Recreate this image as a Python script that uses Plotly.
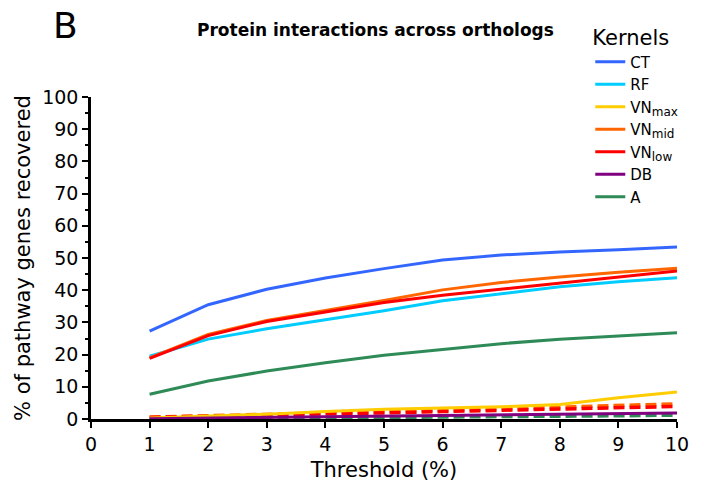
import plotly.graph_objects as go

# Thresholds (%) on the x axis
thresholds = [1, 2, 3, 4, 5, 6, 7, 8, 9, 10]

# % of pathway genes recovered for each kernel
ct = [27.3, 35.5, 40.3, 43.8, 46.7, 49.4, 50.9, 51.9, 52.6, 53.4]
rf = [19.5, 24.8, 28.0, 30.7, 33.6, 36.7, 38.9, 41.1, 42.6, 43.9]
vn_max = [0.3, 0.8, 1.5, 2.3, 3.0, 3.4, 3.8, 4.5, 6.6, 8.4]
vn_mid = [19.0, 26.3, 30.6, 33.6, 36.8, 40.1, 42.4, 44.1, 45.6, 46.8]
vn_low = [18.8, 25.9, 30.3, 33.2, 36.2, 38.4, 40.3, 42.4, 44.3, 46.0]
db = [0.1, 0.3, 0.5, 0.7, 0.9, 1.1, 1.3, 1.5, 1.7, 1.9]
a = [7.7, 11.8, 14.9, 17.5, 19.8, 21.6, 23.4, 24.8, 25.9, 26.8]

# Background (dashed) curves
vn_mid_bg = [0.6, 1.0, 1.4, 1.8, 2.3, 2.8, 3.2, 3.7, 4.2, 4.7]
vn_low_bg = [0.5, 0.8, 1.1, 1.5, 1.9, 2.3, 2.7, 3.1, 3.5, 3.9]
a_bg = [0.0, 0.1, 0.2, 0.3, 0.4, 0.6, 0.7, 0.9, 1.0, 1.2]


def sub(base, low):
    return f"{base}<sub><span style='font-size:12px'>{low}</span></sub>"


series = [
    ("CT", ct, "#3366ff"),
    ("RF", rf, "#00ccff"),
    (sub("VN", "max"), vn_max, "#ffcc00"),
    (sub("VN", "mid"), vn_mid, "#ff6600"),
    (sub("VN", "low"), vn_low, "#ff0000"),
    ("DB", db, "#800080"),
    ("A", a, "#2e8b57"),
]

background = [
    ("VN mid background", vn_mid_bg, "#ff6600"),
    ("VN low background", vn_low_bg, "#ff0000"),
    ("A background", a_bg, "#2e8b57"),
]

FONT = "DejaVu Sans"

fig = go.Figure()

for name, vals, color in background:
    fig.add_trace(go.Scatter(
        x=thresholds, y=vals, mode="lines", name=name, showlegend=False,
        line=dict(color=color, width=3.5, dash="11px,5px"),
    ))

for name, vals, color in series:
    fig.add_trace(go.Scatter(
        x=thresholds, y=vals, mode="lines", name=name,
        line=dict(color=color, width=3),
    ))

axis_common = dict(
    showline=True, linecolor="black", linewidth=2.5,
    ticks="outside", tickcolor="black", tickwidth=2, ticklen=6,
    showgrid=False, zeroline=False,
    tickfont=dict(family=FONT, size=19, color="black"),
)

fig.update_xaxes(
    range=[0, 10], tickmode="linear", tick0=0, dtick=1,
    title=dict(text="Threshold (%)", font=dict(family=FONT, size=21, color="black"), standoff=9),
    **axis_common,
)
fig.update_yaxes(
    range=[0, 100], tickmode="linear", tick0=0, dtick=10,
    minor=dict(ticks="outside", dtick=5, ticklen=3.5, tickwidth=2, tickcolor="black"),
    title=dict(text="% of pathway genes recovered", font=dict(family=FONT, size=21, color="black"), standoff=6),
    **axis_common,
)

fig.update_layout(
    width=704, height=490,
    margin=dict(l=91, r=27, t=97, b=71),
    paper_bgcolor="white", plot_bgcolor="white",
    font=dict(family=FONT, color="black"),
    legend=dict(
        title=dict(text="Kernels", font=dict(family=FONT, size=21)),
        font=dict(family=FONT, size=15),
        x=0.852, xanchor="left", y=1.245, yanchor="top",
        bgcolor="rgba(0,0,0,0)", tracegroupgap=0,
    ),
    annotations=[
        dict(text="B", xref="paper", yref="paper", x=-0.068, y=1.292,
             xanchor="left", yanchor="top", showarrow=False,
             font=dict(family=FONT, size=36, color="black")),
        dict(text="<b>Protein interactions across orthologs</b>", xref="paper", yref="paper",
             x=0.485, y=1.208, xanchor="center", yanchor="middle", showarrow=False,
             font=dict(family=FONT, size=17, color="black")),
    ],
)

fig.write_html("out.html")
